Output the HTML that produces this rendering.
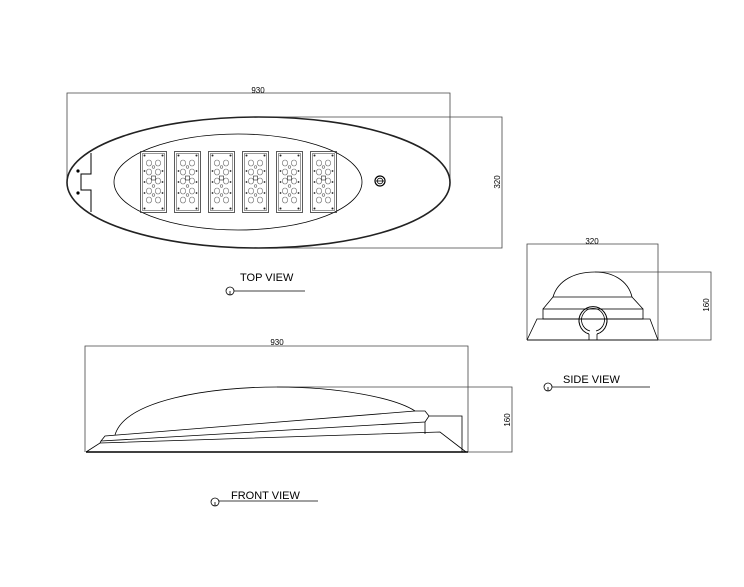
<!DOCTYPE html>
<html><head><meta charset="utf-8"><style>
html,body{margin:0;padding:0;background:#fff;}
svg{display:block;}
text{font-family:"Liberation Sans",sans-serif;fill:#000;}
</style></head><body>
<svg width="744" height="587" viewBox="0 0 744 587" xmlns="http://www.w3.org/2000/svg">
<defs>
<symbol id="mod" viewBox="0 0 27 62" width="27" height="62">
<rect x="0.5" y="0.5" width="26" height="61" fill="none" stroke="#333" stroke-width="0.8"/>
<rect x="2.5" y="2.5" width="22" height="57" fill="none" stroke="#555" stroke-width="0.6"/>
<g fill="#222">
<circle cx="4.5" cy="4.5" r="1"/><circle cx="22.5" cy="4.5" r="1"/>
<circle cx="4.5" cy="57.5" r="1"/><circle cx="22.5" cy="57.5" r="1"/>
<circle cx="4.5" cy="20" r="0.9"/><circle cx="22.5" cy="20" r="0.9"/>
<circle cx="4.5" cy="31" r="0.9"/><circle cx="22.5" cy="31" r="0.9"/>
<circle cx="4.5" cy="42" r="0.9"/><circle cx="22.5" cy="42" r="0.9"/>
</g>
<g fill="none" stroke="#666" stroke-width="0.6">
<ellipse cx="9" cy="12" rx="2.6" ry="3"/><ellipse cx="18" cy="12" rx="2.6" ry="3"/>
<ellipse cx="9" cy="21" rx="2.6" ry="3"/><ellipse cx="18" cy="21" rx="2.6" ry="3"/>
<ellipse cx="9" cy="30" rx="2.6" ry="3"/><ellipse cx="18" cy="30" rx="2.6" ry="3"/>
<ellipse cx="9" cy="40" rx="2.6" ry="3"/><ellipse cx="18" cy="40" rx="2.6" ry="3"/>
<ellipse cx="9" cy="49" rx="2.6" ry="3"/><ellipse cx="18" cy="49" rx="2.6" ry="3"/>
<circle cx="13.5" cy="16" r="1.3"/><circle cx="13.5" cy="35" r="1.3"/><circle cx="13.5" cy="44" r="1.3"/>
<rect x="11.5" y="25" width="4" height="4" stroke="#222"/>
</g>
</symbol>
</defs>
<g fill="none" stroke="#000" stroke-width="0.8">
<polyline points="67,180 67,93 450,93 450,180" stroke="#444"/>
<polyline points="258,117 502,117 502,248 258,248" stroke="#444"/>
<ellipse cx="258.5" cy="182.5" rx="191.5" ry="65.5" stroke-width="1.6" stroke="#222"/>
<ellipse cx="238" cy="182" rx="124" ry="48"/>
<polyline points="91,153 91,174 81,174 81,190 91,190 91,212" stroke-width="1"/>
<circle cx="380" cy="181" r="5" stroke-width="1.2"/>
<circle cx="380" cy="181" r="2.8" stroke-width="0.8"/>
<line x1="376" y1="181" x2="384" y2="181"/>
</g>
<circle cx="78" cy="171" r="1.6" fill="#000"/>
<circle cx="78" cy="193" r="1.6" fill="#000"/>
<use href="#mod" x="140" y="151"/>
<use href="#mod" x="174" y="151"/>
<use href="#mod" x="208" y="151"/>
<use href="#mod" x="242" y="151"/>
<use href="#mod" x="276" y="151"/>
<use href="#mod" x="310" y="151"/>
<text x="258" y="93" font-size="8" text-anchor="middle">930</text>
<text transform="translate(500,182) rotate(-90)" font-size="8" text-anchor="middle">320</text>
<text x="240" y="281" font-size="11">TOP VIEW</text>
<g fill="none" stroke="#000" stroke-width="0.8">
<line x1="234" y1="291" x2="305" y2="291"/>
<circle cx="230" cy="291" r="4"/><line x1="230" y1="291" x2="230" y2="295"/>

<polyline points="85,452 85,346 468,346 468,452" stroke="#444"/>
<polyline points="277,387 512,387 512,452 468,452" stroke="#444"/>
<line x1="86" y1="452" x2="468" y2="452" stroke-width="1.6"/>
<path d="M115,435 C125,400 210,387 277,387 C340,387 395,398 415,411"/>
<polyline points="86,452 100,443 440,432 466,452"/>
<polyline points="100,443 101,441 105,436 415,411 425,411 429,416 425,422 425,434"/>
<line x1="101" y1="441" x2="425" y2="422"/>
<polyline points="429,416 462,416 462,452"/>
</g>
<text x="277" y="345" font-size="8" text-anchor="middle">930</text>
<text transform="translate(510,420) rotate(-90)" font-size="8" text-anchor="middle">160</text>
<text x="231" y="499" font-size="11">FRONT VIEW</text>
<g fill="none" stroke="#000" stroke-width="0.8">
<line x1="219" y1="501" x2="318" y2="501"/>
<circle cx="215" cy="502" r="4"/><line x1="215" y1="502" x2="215" y2="506"/>

<polyline points="527,340 527,244 658,244 658,340" stroke="#444"/>
<polyline points="595,272 711,272 711,340 658,340" stroke="#444"/>
<line x1="527" y1="340" x2="658" y2="340" stroke="#777" stroke-width="1.8"/>
<polyline points="527,340 537,319 650,319 658,340"/>
<rect x="543" y="309" width="100" height="10"/>
<polyline points="543,309 553,297 632,297 643,309"/>
<path d="M553,297 C558,280 575,272 595,272 C612,272 628,280 632,297"/>
<path d="M589,334 A14,14 0 1 1 597,334" stroke-width="1"/>
<path d="M590,331 A11.5,11.5 0 1 1 596,331" stroke-width="0.8"/>
<line x1="589" y1="334" x2="589" y2="340"/><line x1="597" y1="334" x2="597" y2="340"/>
</g>
<text x="592" y="244" font-size="8" text-anchor="middle">320</text>
<text transform="translate(709,305) rotate(-90)" font-size="8" text-anchor="middle">160</text>
<text x="563" y="383" font-size="11">SIDE VIEW</text>
<g fill="none" stroke="#000" stroke-width="0.8">
<line x1="552" y1="387" x2="650" y2="387"/>
<circle cx="548" cy="387" r="4"/><line x1="548" y1="387" x2="548" y2="391"/>
</g>
</svg>
</body></html>
